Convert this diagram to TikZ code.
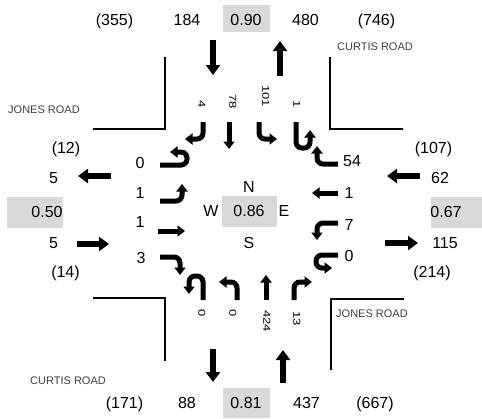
\documentclass[tikz,border=0pt]{standalone}
\usepackage{fontspec}
\setmainfont{Liberation Sans}
\usetikzlibrary{arrows.meta}
\definecolor{boxgray}{HTML}{D9D9D9}
\definecolor{roadgray}{HTML}{404040}
\tikzset{
 lbl/.style={inner sep=0pt, font=\fontsize{16}{18}\selectfont, text height=11.5pt, text depth=0pt},
 graybox/.style={fill=boxgray, draw=none},
 road/.style={inner sep=0pt, font=\fontsize{11}{13}\selectfont, text=roadgray, text height=8pt, text depth=0pt},
 curb/.style={line width=1.8pt},
 bigarrow/.style={line width=6pt, -{Triangle[width=14pt,length=10pt]}},
 movarrow/.style={line width=5pt, rounded corners=6pt, -{Triangle[width=11pt,length=7.5pt]}},
 rlbl/.style={inner sep=0pt, font=\fontsize{10}{11}\selectfont, text height=7.2pt, text depth=0pt}
}
\begin{document}
\begin{tikzpicture}[x=1pt,y=-1pt]
\useasboundingbox (0,0) rectangle (482,418);
% gray boxes
\fill[graybox] (223,5) rectangle (270,32);
\fill[graybox] (223,388) rectangle (270,418);
\fill[graybox] (7,197) rectangle (63,228);
\fill[graybox] (431,197) rectangle (482,228);
\fill[graybox] (222,196) rectangle (277,227);
% curbs
\draw[curb] (165,57) -- (165,129) -- (93,129);
\draw[curb] (330,57) -- (330,129) -- (403,129);
\draw[curb] (93,298) -- (165,298) -- (165,361);
\draw[curb] (331,370) -- (331,299) -- (404,299);
% road names
\node[road] (cr1) at (375,46) {CURTIS ROAD};
\node[road] (jr1) at (44,109) {JONES ROAD};
\node[road] (jr2) at (372,313) {JONES ROAD};
\node[road] (cr2) at (68,380) {CURTIS ROAD};
% top row
\node[lbl] (t1) at (114.5,20) {(355)};
\node[lbl] (t2) at (187,20) {184};
\node[lbl] (t3) at (246,20) {0.90};
\node[lbl] (t4) at (305.5,20) {480};
\node[lbl] (t5) at (376.5,20) {(746)};
% bottom row
\node[lbl] (b1) at (124.5,403) {(171)};
\node[lbl] (b2) at (187,403) {88};
\node[lbl] (b3) at (246,403) {0.81};
\node[lbl] (b4) at (306.5,403) {437};
\node[lbl] (b5) at (375,403) {(667)};
% left column
\node[lbl] (l1) at (66,148) {(12)};
\node[lbl] (l2) at (53.5,178) {5};
\node[lbl] (l3) at (47,212) {0.50};
\node[lbl] (l4) at (53.5,243) {5};
\node[lbl] (l5) at (65.5,272) {(14)};
% right column
\node[lbl] (r1) at (433.5,148) {(107)};
\node[lbl] (r2) at (440,178) {62};
\node[lbl] (r3) at (446,212) {0.67};
\node[lbl] (r4) at (445,243) {115};
\node[lbl] (r5) at (432,272) {(214)};
% center
\node[lbl] (cn) at (249,187) {N};
\node[lbl] (cw) at (211,211) {W};
\node[lbl] (cc) at (249,211) {0.86};
\node[lbl] (ce) at (284,211) {E};
\node[lbl] (cs) at (249,243) {S};
% approach arrows
\draw[bigarrow] (213,40) -- (213,75);
\draw[bigarrow] (280,76) -- (280,41);
\draw[bigarrow] (111,176) -- (78,176);
\draw[bigarrow] (77,244) -- (109,244);
\draw[bigarrow] (420,176) -- (387,176);
\draw[bigarrow] (385,243) -- (418,243);
\draw[bigarrow] (213,349) -- (213,382);
\draw[bigarrow] (283,383) -- (283,350);
% west approach movements
\node[lbl] (w1) at (140,163) {0};
\node[lbl] (w2) at (140,193) {1};
\node[lbl] (w3) at (140,222) {1};
\node[lbl] (w4) at (141,258) {3};
\draw[movarrow] (160,165) -- (187,165) -- (187,152) -- (170,152);
\draw[movarrow] (160,201) -- (182,201) -- (182,184);
\draw[movarrow] (158,231) -- (185,231);
\draw[movarrow] (160,257) -- (180,257) -- (180,275);
% east approach movements
\node[lbl] (e1) at (352,161) {54};
\node[lbl] (e2) at (349,193) {1};
\node[lbl] (e3) at (349,225) {7};
\node[lbl] (e4) at (349,256) {0};
\draw[movarrow] (338,164) -- (317,164) -- (317,146);
\draw[movarrow] (338,193) -- (312,193);
\draw[movarrow] (338,223) -- (317,223) -- (317,240);
\draw[movarrow] (338,255) -- (316,255) -- (316,268) -- (332,268);
% north approach movements
\node[rlbl, rotate=-90, anchor=east] (n1) at (202,108) {\scalebox{1.3}[1]{4}};
\node[rlbl, rotate=-90, anchor=east] (n2) at (233,109) {\scalebox{1.3}[1]{78}};
\node[rlbl, rotate=-90, anchor=east] (n3) at (266,107) {\scalebox{1.3}[1]{101}};
\node[rlbl, rotate=-90, anchor=east] (n4) at (297,108) {\scalebox{1.3}[1]{1}};
\draw[movarrow] (203,122) -- (203,139) -- (185,139);
\draw[movarrow] (229,122) -- (229,149);
\draw[movarrow] (259,122) -- (259,139) -- (277,139);
\draw[movarrow] (296,122) -- (296,148) -- (310,148) -- (310,130);
% south approach movements
\node[rlbl, rotate=-90, anchor=west] (s1) at (202,309) {\scalebox{1.3}[1]{0}};
\node[rlbl, rotate=-90, anchor=west] (s2) at (233,309) {\scalebox{1.3}[1]{0}};
\node[rlbl, rotate=-90, anchor=west] (s3) at (267,310) {\scalebox{1.3}[1]{424}};
\node[rlbl, rotate=-90, anchor=west] (s4) at (297,311) {\scalebox{1.3}[1]{13}};
\draw[movarrow] (203,300) -- (203,276) -- (189,276) -- (189,294);
\draw[movarrow] (237,300) -- (237,282) -- (219,282);
\draw[movarrow] (266,300) -- (266,275);
\draw[movarrow] (294,300) -- (294,282) -- (312,282);
\end{tikzpicture}
\end{document}
